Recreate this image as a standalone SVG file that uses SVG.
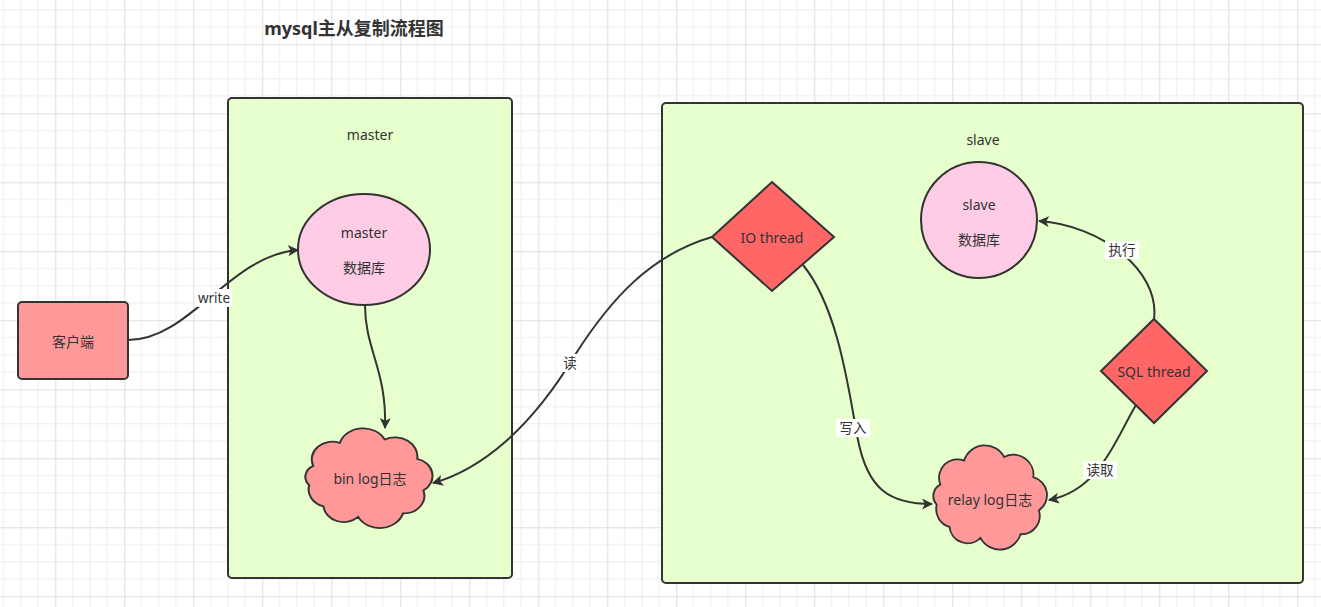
<svg xmlns="http://www.w3.org/2000/svg" width="1321" height="607" viewBox="0 0 1321 607">
<style>
text{font-family:"Noto Sans","Noto Sans CJK SC",sans-serif;font-size:14px;fill:#333;text-anchor:middle;dominant-baseline:central}
.title{font-size:18px;font-weight:bold}
.lbl{font-size:13.5px}
.shp{stroke:#333;stroke-width:2}
.cont{fill:#E6FFCC;stroke:#333;stroke-width:2}
.edge{fill:none;stroke:#333;stroke-width:2;marker-end:url(#arr)}
.lbg{fill:#fff}
</style>
<defs>
<pattern id="grid" x="-13.7" y="-24.7" width="69" height="69" patternUnits="userSpaceOnUse">
<path d="M17.25 0V69M34.5 0V69M51.75 0V69M0 17.25H69M0 34.5H69M0 51.75H69" stroke="#ededed" stroke-width="1" fill="none"/>
<path d="M0.5 0V69M0 0.5H69" stroke="#dedede" stroke-width="1" fill="none"/>
</pattern>
<marker id="arr" viewBox="0 0 10 10" refX="9" refY="5" markerWidth="11" markerHeight="11" markerUnits="userSpaceOnUse" orient="auto">
<path d="M0 0L10 5L0 10L2.5 5Z" fill="#333"/>
</marker>
<path id="cloud" d="M12,38 A20,20 0 0 1 38,12 A24,24 0 0 1 82,8 A22,22 0 0 1 114,30 A20,20 0 0 1 120,66 A20,20 0 0 1 100,92 A24,24 0 0 1 56,96 A20,20 0 0 1 22,84 A20,20 0 0 1 8,60 A14,14 0 0 1 12,38 Z"/>
</defs>
<rect width="1321" height="607" fill="#fff"/>
<rect width="1321" height="607" fill="url(#grid)"/>
<g id="title"><text class="title" x="354" y="28">mysql主从复制流程图</text></g>
<g id="master-group"><rect class="cont" x="228" y="98" width="284" height="480" rx="4"/><text x="370" y="134">master</text></g>
<g id="slave-group"><rect class="cont" x="662" y="103" width="641" height="480" rx="4"/><text x="983" y="139">slave</text></g>
<g id="client"><rect class="shp" x="18" y="302" width="110" height="77" rx="4" fill="#FF9999"/><text x="73" y="341">客户端</text></g>
<g id="master-db"><ellipse class="shp" cx="364" cy="249.5" rx="66" ry="55.5" fill="#FFCCE6"/><text x="364" y="232">master</text><text x="364" y="267">数据库</text></g>
<g id="binlog"><use href="#cloud" transform="translate(301,432.4) scale(1.02,0.88)" fill="#FF9999" stroke="#333" stroke-width="2" vector-effect="non-scaling-stroke"/><text x="370" y="478">bin log日志</text></g>
<g id="io-thread"><path class="shp" d="M772,182L834,237L772,291L712,237Z" fill="#FF6666"/><text x="772" y="237">IO thread</text></g>
<g id="slave-db"><circle class="shp" cx="979" cy="220" r="58" fill="#FFCCE6"/><text x="979" y="204">slave</text><text x="979" y="239">数据库</text></g>
<g id="sql-thread"><path class="shp" d="M1154,319L1207,371L1154,423L1101,371Z" fill="#FF6666"/><text x="1154" y="371">SQL thread</text></g>
<g id="relaylog"><use href="#cloud" transform="translate(929.4,449.6) scale(0.912,0.92)" fill="#FF9999" stroke="#333" stroke-width="2" vector-effect="non-scaling-stroke"/><text x="990" y="499">relay log日志</text></g>
<g id="connectors">
<path class="edge" d="M128,340 C190,340 230,255 298,250"/>
<path class="edge" d="M365,305 C365,350 387,370 385,428"/>
<path class="edge" d="M712,237 C650,255 610,300 575,355 C530,430 480,470 433,483"/>
<path class="edge" d="M803,265 C840,310 850,400 858,440 C868,490 890,504 932,504"/>
<path class="edge" d="M1154,319 C1160,270 1100,225 1039,221"/>
<path class="edge" d="M1136,405 C1115,440 1100,490 1049,500"/>
<rect class="lbg" x="196" y="289" width="36" height="18"/><text class="lbl" x="214" y="298">write</text>
<rect class="lbg" x="561" y="354" width="18" height="18"/><text class="lbl" x="570" y="363">读</text>
<rect class="lbg" x="836" y="419" width="34" height="18"/><text class="lbl" x="853" y="428">写入</text>
<rect class="lbg" x="1105" y="241" width="34" height="18"/><text class="lbl" x="1122" y="250">执行</text>
<rect class="lbg" x="1083" y="461" width="34" height="18"/><text class="lbl" x="1100" y="470">读取</text>
</g>
</svg>
